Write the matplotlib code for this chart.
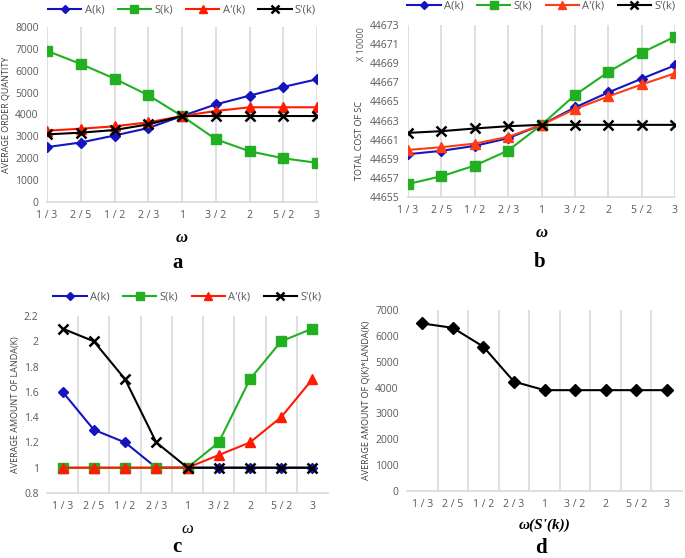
import matplotlib
matplotlib.use('Agg')
import matplotlib.pyplot as plt
import numpy as np

omega = ['1/3', '2/5', '1/2', '2/3', '1', '3/2', '2', '5/2', '3']

# panel a - average order quantity
qty_A = [2510, 2720, 3040, 3380, 3930, 4460, 4860, 5260, 5610]
qty_S = [6910, 6310, 5640, 4880, 3930, 2870, 2320, 2000, 1790]
qty_Ap = [3260, 3350, 3460, 3640, 3930, 4160, 4330, 4330, 4330]
qty_Sp = [3090, 3170, 3290, 3550, 3930, 3930, 3930, 3930, 3930]

# panel b - total cost of SC (x 10000)
cost_A = [44659.48, 44659.83, 44660.35, 44661.15, 44662.55, 44664.37, 44665.94, 44667.38, 44668.78]
cost_S = [44656.36, 44657.17, 44658.29, 44659.86, 44662.55, 44665.66, 44668.08, 44670.10, 44671.78]
cost_Ap = [44659.93, 44660.21, 44660.59, 44661.29, 44662.55, 44664.20, 44665.52, 44666.78, 44667.94]
cost_Sp = [44661.71, 44661.89, 44662.17, 44662.41, 44662.55, 44662.55, 44662.55, 44662.55, 44662.55]

# panel c - average amount of landa(k)
landa_A = [1.6, 1.3, 1.2, 1.0, 1.0, 1.0, 1.0, 1.0, 1.0]
landa_S = [1.0, 1.0, 1.0, 1.0, 1.0, 1.2, 1.7, 2.0, 2.1]
landa_Ap = [1.0, 1.0, 1.0, 1.0, 1.0, 1.1, 1.2, 1.4, 1.7]
landa_Sp = [2.1, 2.0, 1.7, 1.2, 1.0, 1.0, 1.0, 1.0, 1.0]

# panel d - Q(k)*landa(k) for S'(k)
qland_Sp = [6480, 6310, 5580, 4230, 3900, 3900, 3900, 3900, 3900]

W, H = 685, 558
fig = plt.figure(figsize=(W / 100, H / 100), dpi=100)
plt.rcParams['font.family'] = ['Open Sans', 'DejaVu Sans']

GRAY = '#595959'
GRID = '#d9d9d9'
blue, green, red, black = '#1515c0', '#22b022', '#ff1a00', '#000000'


def px_axes(l, r, t, b):
    return fig.add_axes([l / W, 1 - b / H, (r - l) / W, (b - t) / H])


def style(ax, between):
    x = np.arange(len(omega))
    for s in ['top', 'right', 'left']:
        ax.spines[s].set_visible(False)
    ax.spines['bottom'].set_color(GRID)
    ax.spines['bottom'].set_linewidth(1.2)
    ax.set_xticks(x)
    ax.set_xticklabels([o.replace('/', ' / ') for o in omega])
    ax.tick_params(axis='both', length=0, labelsize=7.5, colors=GRAY, pad=6)
    if between:
        ax.set_xlim(-0.5, len(omega) - 0.5)
        for g in np.arange(0.5, len(omega) - 0.5, 1):
            ax.axvline(g, color=GRID, lw=1.2, zorder=0)
    else:
        ax.set_xlim(0, len(omega) - 1)
        for g in x:
            ax.axvline(g, color=GRID, lw=1.2, zorder=0)


def four_lines(ax, a, s, ap, sp, ap_color=red):
    x = np.arange(len(omega))
    ax.plot(x, a, color=blue, marker='D', ms=5, lw=1.5, label='A(k)')
    ax.plot(x, s, color=green, marker='s', ms=6.5, lw=1.5, label='S(k)')
    ax.plot(x, ap, color=ap_color, marker='^', ms=6.5, lw=1.5, label="A'(k)")
    ax.plot(x, sp, color=black, marker='x', ms=7, mew=1.8, lw=1.5, label="S'(k)")


def top_legend(ax, y):
    leg = ax.legend(loc='lower center', bbox_to_anchor=(0.5, y), ncol=4, frameon=False,
                    fontsize=8, handlelength=3, columnspacing=1.2, handletextpad=0.3,
                    labelcolor=GRAY, borderaxespad=0, markerscale=0.8)
    return leg


# a
ax = px_axes(47, 317, 27, 202)
style(ax, between=False)
four_lines(ax, qty_A, qty_S, qty_Ap, qty_Sp)
ax.set_ylim(0, 8000)
ax.set_yticks(range(0, 8001, 1000))
ax.set_ylabel('AVERAGE ORDER QUANTITY', fontsize=6.5, color='#404040', labelpad=3)
ax.set_xlabel('ω', fontsize=12, family='Liberation Serif', fontweight='bold', style='italic', labelpad=6)
top_legend(ax, 1.04)
fig.text(178 / W, 1 - 263 / H, 'a', ha='center', va='center', fontsize=15,
         family='Liberation Serif', fontweight='bold')

# b
ax = px_axes(408, 675, 25, 197)
style(ax, between=False)
four_lines(ax, cost_A, cost_S, cost_Ap, cost_Sp, ap_color='#ff3c14')
ax.set_ylim(44655, 44673)
ax.set_yticks(range(44655, 44674, 2))
ax.set_ylabel('TOTAL COST OF SC', fontsize=6.5, color='#404040', labelpad=3)
ax.yaxis.set_label_coords(-0.165, 0.33)
fig.text(362 / W, 1 - 44 / H, 'X 10000', rotation=90, ha='center', va='center',
         fontsize=6.5, color=GRAY)
ax.set_xlabel('ω', fontsize=12, family='Liberation Serif', fontweight='bold', style='italic', labelpad=6)
top_legend(ax, 1.05)
fig.text(540 / W, 1 - 262 / H, 'b', ha='center', va='center', fontsize=15,
         family='Liberation Serif', fontweight='bold')

# c
ax = px_axes(47, 328, 316, 493)
style(ax, between=True)
four_lines(ax, landa_A, landa_S, landa_Ap, landa_Sp)
ax.set_ylim(0.8, 2.2)
ax.set_yticks(np.arange(0.8, 2.21, 0.2))
ax.set_yticklabels(['0.8', '1', '1.2', '1.4', '1.6', '1.8', '2', '2.2'])
ax.set_ylabel('AVERAGE AMOUNT OF LANDA(K)', fontsize=6.5, color='#404040', labelpad=3)
ax.set_xlabel('ω', fontsize=12, family='Liberation Serif', style='italic', labelpad=6)
top_legend(ax, 1.05)
fig.text(177 / W, 1 - 547 / H, 'c', ha='center', va='center', fontsize=15,
         family='Liberation Serif', fontweight='bold')

# d
ax = px_axes(407, 682, 310, 491)
style(ax, between=True)
ax.plot(np.arange(len(omega)), qland_Sp, color=black, marker='D', ms=6, lw=1.5)
ax.set_ylim(0, 7000)
ax.set_yticks(range(0, 7001, 1000))
ax.set_ylabel('AVERAGE AMOUNT OF Q(K)*LANDA(K)', fontsize=6.5, color='#404040', labelpad=3)
ax.set_xlabel("ω(S'(k))", fontsize=11, family='Liberation Serif', fontweight='bold',
              style='italic', labelpad=6)
fig.text(541 / W, 1 - 548 / H, 'd', ha='center', va='center', fontsize=15,
         family='Liberation Serif', fontweight='bold')

fig.savefig('out.png', dpi=100)
